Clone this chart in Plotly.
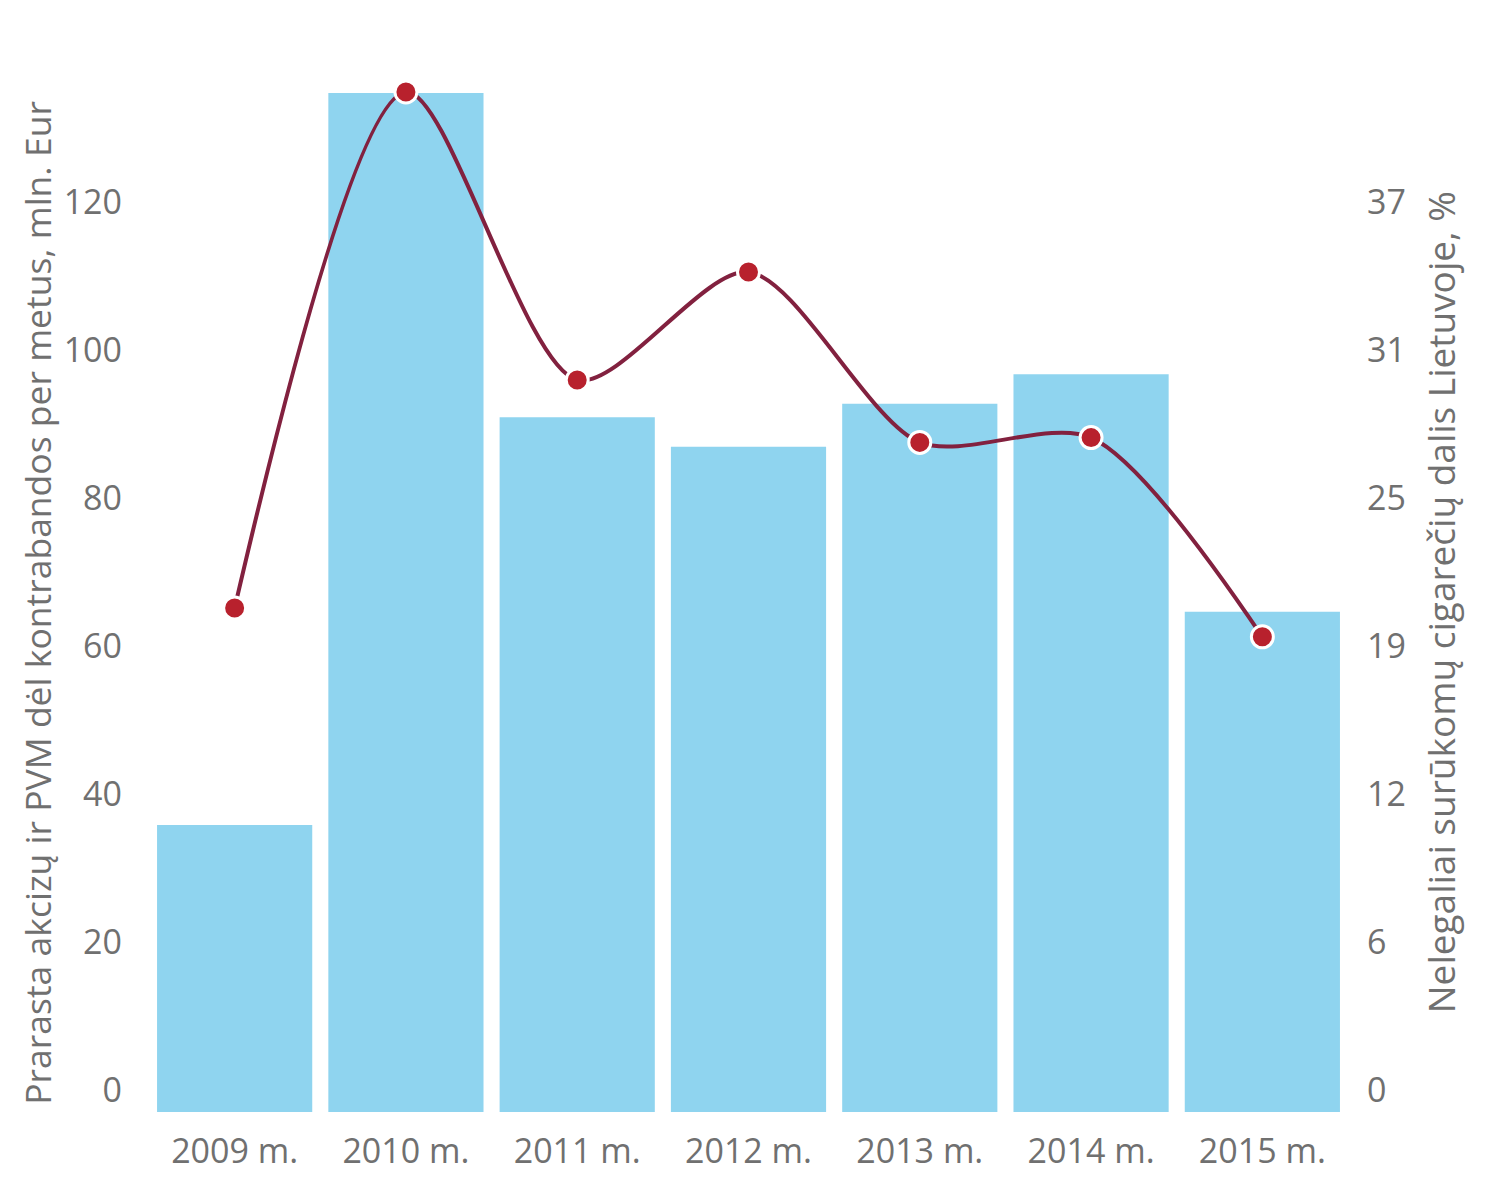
import plotly.graph_objects as go

years = ["2009 m.", "2010 m.", "2011 m.", "2012 m.", "2013 m.", "2014 m.", "2015 m."]
lost_mln_eur = [38.8, 137.7, 93.9, 89.9, 95.7, 99.7, 67.6]
illegal_share = [21.0, 42.5, 30.5, 35.0, 27.9, 28.1, 19.8]

left_ticks = [0, 20, 40, 60, 80, 100, 120]
right_tickvals = [v * 37 / 120 for v in left_ticks]
right_ticktext = ["0", "6", "12", "19", "25", "31", "37"]

ymax = 140
font_col = "#707070"

fig = go.Figure()
fig.add_trace(go.Bar(x=years, y=lost_mln_eur, marker_color="#8fd4ef",
                     marker_line_width=0, yaxis="y"))
fig.add_trace(go.Scatter(x=years, y=illegal_share, yaxis="y2", mode="lines+markers",
                         line=dict(color="#82213f", width=4, shape="spline", smoothing=0.8),
                         marker=dict(color="#b8212d", size=22, line=dict(color="white", width=3))))

fig.update_layout(
    width=1500, height=1179,
    margin=dict(l=141, r=160, t=68, b=75),
    paper_bgcolor="white", plot_bgcolor="white",
    showlegend=False, bargap=0.094,
    font=dict(family="Open Sans", color=font_col, size=34),
    xaxis=dict(showgrid=False, zeroline=False, showline=False, automargin=False,
               tickfont=dict(size=34, color=font_col), ticklabelstandoff=16),
    yaxis=dict(range=[0, ymax], tickvals=left_ticks, showgrid=False, zeroline=False,
               showline=False, automargin=False, tickfont=dict(size=34, color=font_col),
               ticklabelstandoff=26, ticklabelshift=-22),
    yaxis2=dict(range=[0, ymax * 37 / 120], overlaying="y", side="right",
                tickvals=right_tickvals, ticktext=right_ticktext, showgrid=False,
                zeroline=False, showline=False, automargin=False,
                tickfont=dict(size=34, color=font_col),
                ticklabelstandoff=18, ticklabelshift=-22),
    annotations=[
        dict(text="Prarasta akcizų ir PVM dėl kontrabandos per metus, mln. Eur",
             xref="paper", yref="paper", x=-0.093, y=0.492, xanchor="center", yanchor="middle",
             textangle=-90, showarrow=False, borderpad=0,
             font=dict(size=35.5, color=font_col)),
        dict(text="Nelegaliai surūkomų cigarečių dalis Lietuvoje, %",
             xref="paper", yref="paper", x=1.0767, y=0.492, xanchor="center", yanchor="middle",
             textangle=-90, showarrow=False, borderpad=0,
             font=dict(size=37, color=font_col)),
    ],
)

fig.write_html("out.html")
